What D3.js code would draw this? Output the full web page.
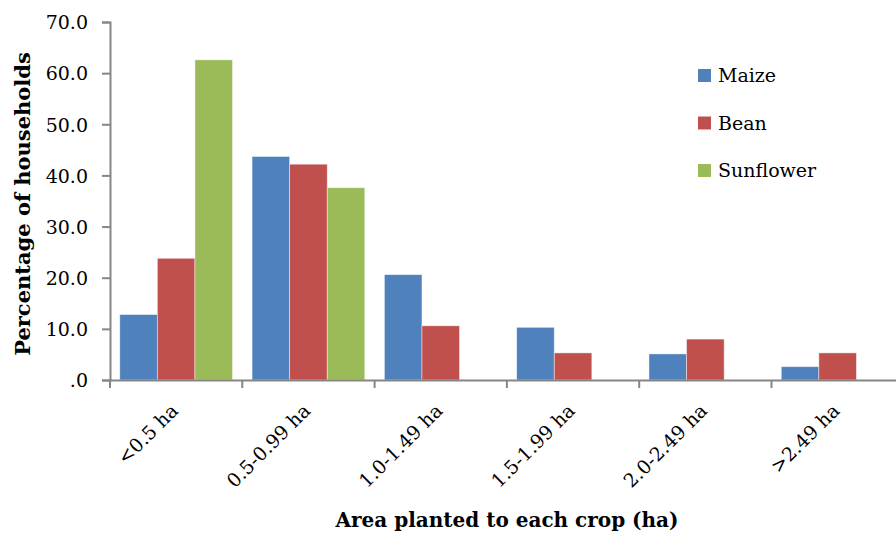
<!DOCTYPE html>
<html>
<head>
<meta charset="utf-8">
<script src="https://cdn.jsdelivr.net/npm/d3@7/dist/d3.min.js"></script>
<style>
  body { margin: 0; background: #fff; }
  svg { display: block; }
  text { font-family: "DejaVu Serif", "Liberation Serif", serif; fill: #000; }
</style>
</head>
<body>
<svg id="chart" width="896" height="539"></svg>
<script>
// Share of households by area planted to each crop
const categories = ["<0.5 ha", "0.5-0.99 ha", "1.0-1.49 ha", "1.5-1.99 ha", "2.0-2.49 ha", ">2.49 ha"];
const seriesNames = ["Maize", "Bean", "Sunflower"];
const maize     = [12.8, 43.7, 20.6, 10.3, 5.1, 2.6];
const bean      = [23.8, 42.2, 10.6, 5.3, 8.0, 5.3];
const sunflower = [62.6, 37.6, null, null, null, null];
const yTicks = [0, 10, 20, 30, 40, 50, 60, 70];
const colors = ["#4F81BD", "#C0504D", "#9BBB59"];

const seriesValues = [maize, bean, sunflower];
const svg = d3.select("#chart");

const margin = { left: 110, top: 22, bottom: 380 };
const bandStep = 132.3;
const x = d3.scaleBand()
  .domain(categories)
  .range([margin.left, margin.left + bandStep * categories.length])
  .paddingInner(0)
  .paddingOuter(0);
const xInner = d3.scaleBand()
  .domain(seriesNames)
  .range([0, x.bandwidth()])
  .paddingOuter(0.26)
  .paddingInner(0);
const y = d3.scaleLinear().domain([0, 70]).range([margin.bottom, margin.top]);

const axisColor = "#868686";

// Bars
const groups = svg.append("g").selectAll("g")
  .data(categories)
  .join("g")
  .attr("transform", d => `translate(${x(d)},0)`);

groups.selectAll("rect")
  .data((c, i) => seriesNames.map((s, k) => ({ s, k, v: seriesValues[k][i] })).filter(d => d.v != null))
  .join("rect")
  .attr("x", d => xInner(d.s))
  .attr("width", xInner.bandwidth())
  .attr("y", d => y(d.v))
  .attr("height", d => y(0) - y(d.v))
  .attr("fill", d => colors[d.k])
  .attr("stroke", "#ffffff")
  .attr("stroke-opacity", 0.55)
  .attr("stroke-width", 0.8);

// Y axis
const yAxis = d3.axisLeft(y)
  .tickValues(yTicks)
  .tickSize(8)
  .tickPadding(14)
  .tickFormat(d => d === 0 ? ".0" : d3.format(".1f")(d));
const gy = svg.append("g")
  .attr("transform", `translate(${margin.left},0)`)
  .call(yAxis);
gy.select(".domain").attr("stroke", axisColor).attr("stroke-width", 2);
gy.selectAll(".tick line").attr("stroke", axisColor).attr("stroke-width", 2);
gy.selectAll(".tick text")
  .attr("font-size", 19)
  .attr("font-family", "DejaVu Serif, serif")
  .attr("dy", "0.36em");

// X axis with ticks at category boundaries
const xAxis = d3.axisBottom(x).tickSize(0).tickFormat("");
const gx = svg.append("g")
  .attr("transform", `translate(0,${margin.bottom})`)
  .call(xAxis);
gx.select(".domain").attr("stroke", axisColor).attr("stroke-width", 2);
gx.selectAll(".tick").remove();
const boundaries = categories.map(c => x(c)).concat([x(categories[categories.length - 1]) + x.bandwidth()]);
gx.selectAll("line.bound")
  .data(boundaries)
  .join("line")
  .attr("class", "bound")
  .attr("x1", d => d).attr("x2", d => d)
  .attr("y1", 0).attr("y2", 8)
  .attr("stroke", axisColor)
  .attr("stroke-width", 2);

// Rotated category labels
svg.append("g").selectAll("text")
  .data(categories)
  .join("text")
  .attr("transform", d => `translate(${x(d) + x.bandwidth() / 2 + 3},${margin.bottom + 32}) rotate(-45)`)
  .attr("text-anchor", "end")
  .attr("font-size", 19)
  .text(d => d);

// Axis titles
svg.append("text")
  .attr("x", 507)
  .attr("y", 527)
  .attr("text-anchor", "middle")
  .attr("font-size", 20)
  .attr("font-weight", "bold")
  .text("Area planted to each crop (ha)");

svg.append("text")
  .attr("transform", `translate(30,204) rotate(-90)`)
  .attr("text-anchor", "middle")
  .attr("font-size", 21)
  .attr("font-weight", "bold")
  .text("Percentage of households");

// Legend
const legend = svg.append("g").selectAll("g")
  .data(seriesNames)
  .join("g")
  .attr("transform", (d, i) => `translate(698,${69 + i * 47.5})`);
legend.append("rect")
  .attr("width", 13).attr("height", 13)
  .attr("fill", (d, i) => colors[i]);
legend.append("text")
  .attr("x", 20)
  .attr("y", 13)
  .attr("font-size", 19)
  .text(d => d);
</script>
</body>
</html>
